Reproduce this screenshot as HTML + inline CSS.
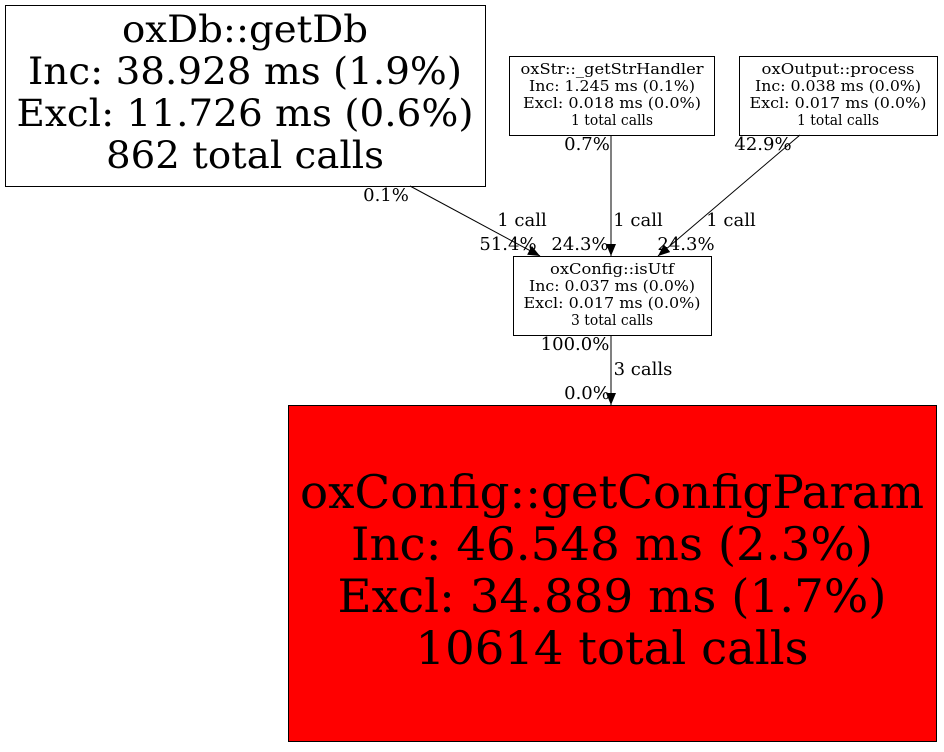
<!DOCTYPE html>
<html><head><meta charset="utf-8"><style>html,body{margin:0;padding:0;background:#fff}</style></head>
<body>
<svg width="944" height="747" viewBox="0 0 944 747" xmlns="http://www.w3.org/2000/svg" font-family="DejaVu Serif, serif" text-anchor="middle">
<defs><marker id="a" markerWidth="12" markerHeight="10" refX="12" refY="5" orient="auto" markerUnits="userSpaceOnUse"><path d="M0,0 L12,5 L0,10 z" fill="#000"/></marker></defs>
<rect x="0" y="0" width="944" height="747" fill="#fff"/>
<rect x="5.5" y="5.5" width="480" height="181" fill="#fff" stroke="#000"/>
<g font-size="37">
<text x="245" y="42" textLength="246" lengthAdjust="spacingAndGlyphs">oxDb::getDb</text>
<text x="245" y="84" textLength="434" lengthAdjust="spacingAndGlyphs">Inc: 38.928 ms (1.9%)</text>
<text x="245" y="126" textLength="457" lengthAdjust="spacingAndGlyphs">Excl: 11.726 ms (0.6%)</text>
<text x="245" y="168" textLength="278" lengthAdjust="spacingAndGlyphs">862 total calls</text>
</g>
<rect x="509.5" y="56.5" width="205" height="79" fill="#fff" stroke="#000"/>
<g font-size="15">
<text x="612" y="74" textLength="183" lengthAdjust="spacingAndGlyphs">oxStr::_getStrHandler</text>
<text x="612" y="91" textLength="166" lengthAdjust="spacingAndGlyphs">Inc: 1.245 ms (0.1%)</text>
<text x="612" y="108" textLength="178" lengthAdjust="spacingAndGlyphs">Excl: 0.018 ms (0.0%)</text>
<text x="612" y="125" textLength="82" lengthAdjust="spacingAndGlyphs">1 total calls</text>
</g>
<rect x="739.5" y="56.5" width="198" height="79" fill="#fff" stroke="#000"/>
<g font-size="15">
<text x="838" y="74" textLength="153" lengthAdjust="spacingAndGlyphs">oxOutput::process</text>
<text x="838" y="91" textLength="166" lengthAdjust="spacingAndGlyphs">Inc: 0.038 ms (0.0%)</text>
<text x="838" y="108" textLength="177" lengthAdjust="spacingAndGlyphs">Excl: 0.017 ms (0.0%)</text>
<text x="838" y="125" textLength="82" lengthAdjust="spacingAndGlyphs">1 total calls</text>
</g>
<rect x="513.5" y="256.5" width="198" height="79" fill="#fff" stroke="#000"/>
<g font-size="15">
<text x="612" y="274" textLength="124" lengthAdjust="spacingAndGlyphs">oxConfig::isUtf</text>
<text x="612" y="291" textLength="166" lengthAdjust="spacingAndGlyphs">Inc: 0.037 ms (0.0%)</text>
<text x="612" y="308" textLength="177" lengthAdjust="spacingAndGlyphs">Excl: 0.017 ms (0.0%)</text>
<text x="612" y="325" textLength="82" lengthAdjust="spacingAndGlyphs">3 total calls</text>
</g>
<rect x="288.5" y="405.5" width="648" height="336" fill="#ff0000" stroke="#000"/>
<g font-size="46">
<text x="612" y="508" textLength="624" lengthAdjust="spacingAndGlyphs">oxConfig::getConfigParam</text>
<text x="612" y="560" textLength="522" lengthAdjust="spacingAndGlyphs">Inc: 46.548 ms (2.3%)</text>
<text x="612" y="612" textLength="549" lengthAdjust="spacingAndGlyphs">Excl: 34.889 ms (1.7%)</text>
<text x="612" y="664" textLength="393" lengthAdjust="spacingAndGlyphs">10614 total calls</text>
</g>
<g stroke="#000" stroke-width="1" fill="none">
<line x1="410" y1="186" x2="540" y2="256" marker-end="url(#a)"/>
<line x1="611" y1="135" x2="611" y2="256" marker-end="url(#a)"/>
<line x1="800" y1="135" x2="658" y2="256" marker-end="url(#a)"/>
<line x1="611" y1="335" x2="611" y2="405" marker-end="url(#a)"/>
</g>
<g font-size="18">
<text x="386" y="201">0.1%</text>
<text x="522" y="226">1 call</text>
<text x="508" y="250">51.4%</text>
<text x="580" y="250">24.3%</text>
<text x="638" y="226">1 call</text>
<text x="587" y="150">0.7%</text>
<text x="763" y="150">42.9%</text>
<text x="731" y="226">1 call</text>
<text x="686" y="250">24.3%</text>
<text x="575" y="350">100.0%</text>
<text x="643" y="375">3 calls</text>
<text x="587" y="399">0.0%</text>
</g>
</svg>
</body></html>
